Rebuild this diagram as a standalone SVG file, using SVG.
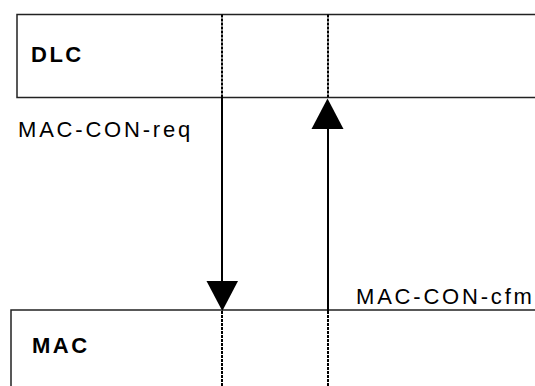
<svg xmlns="http://www.w3.org/2000/svg" width="535" height="386" viewBox="0 0 535 386">
<style>
.box{fill:#fff;stroke:#222;stroke-width:1.5}
.dash{stroke:#000;stroke-width:2;stroke-dasharray:3 1}
.line{stroke:#000;stroke-width:2;fill:none}
.head{fill:#000}
.title{font-family:"Liberation Sans",Arial,sans-serif;font-weight:bold;font-size:22px;letter-spacing:2.5px;fill:#000}
.lbl{font-family:"Liberation Sans",Arial,sans-serif;font-size:22px;letter-spacing:2.8px;fill:#000}
</style>
<g id="dlc">
<rect class="box" x="17" y="14.5" width="530" height="83"/>
<text class="title" x="31" y="62">DLC</text>
</g>
<g id="mac">
<rect class="box" x="11" y="310" width="540" height="90"/>
<text class="title" x="32" y="353">MAC</text>
</g>
<g id="lifelines">
<line class="dash" x1="222" y1="14.5" x2="222" y2="97"/>
<line class="dash" x1="328" y1="14.5" x2="328" y2="97"/>
<line class="dash" x1="222" y1="311" x2="222" y2="386"/>
<line class="dash" x1="328" y1="311" x2="328" y2="386"/>
</g>
<g id="connectors">
<line class="line" x1="222" y1="97" x2="222" y2="282"/>
<polygon class="head" points="206.5,281 238,281 222.3,311"/>
<line class="line" x1="328" y1="311" x2="328" y2="128"/>
<polygon class="head" points="311.5,129 343.5,129 327.5,98.5"/>
</g>
<text class="lbl" x="18" y="136.5">MAC-CON-req</text>
<text class="lbl" x="356" y="303.5">MAC-CON-cfm</text>
</svg>
